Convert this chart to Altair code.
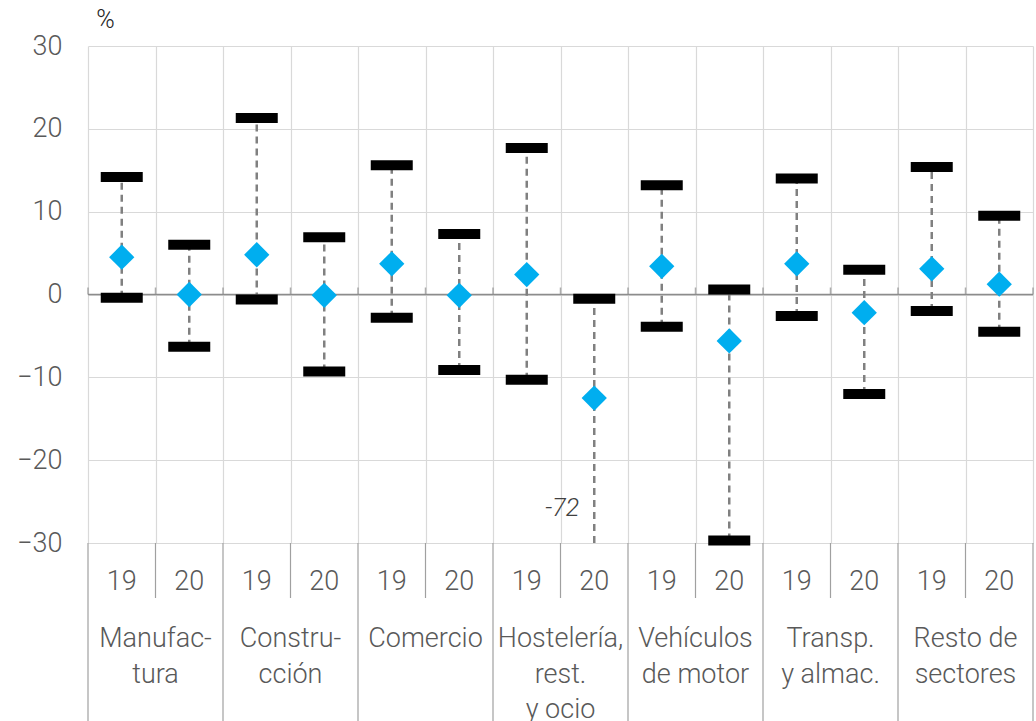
import altair as alt
import pandas as pd

sectors = ["Manufac-\ntura", "Constru-\ncción", "Comercio", "Hostelería,\nrest.\ny ocio",
           "Vehículos\nde motor", "Transp.\ny almac.", "Resto de\nsectores"]
years = ["19", "20"]
highs = [14.2, 6.0, 21.3, 6.9, 15.6, 7.3, 17.7, -0.5, 13.2, 0.6, 14.0, 3.0, 15.4, 9.5]
means = [4.5, 0.0, 4.8, -0.1, 3.7, -0.1, 2.4, -12.5, 3.4, -5.6, 3.7, -2.2, 3.1, 1.25]
lows = [-0.4, -6.3, -0.6, -9.3, -2.8, -9.1, -10.3, -72.0, -3.9, -29.7, -2.6, -12.0, -2.0, -4.5]
y_ticks = [-30, -20, -10, 0, 10, 20, 30]
unit_label = ["%"]

FONT = "'Roboto Light', Roboto, sans-serif"
TXT = "#595959"
W, H = 945, 497

rows = []
for i in range(len(highs)):
    rows.append(dict(pos=i + 0.5, year=years[i % 2], sector=sectors[i // 2],
                     high=highs[i], mean=means[i], low=lows[i]))
df = pd.DataFrame(rows)
sec_df = pd.DataFrame({"pos": [2 * k + 1 for k in range(len(sectors))], "label": sectors})
bounds = pd.DataFrame({"b": list(range(len(highs) + 1))})
bounds["major"] = bounds["b"] % 2 == 0
bounds["z"] = 0.0
zero_df = pd.DataFrame({"z": [0.0]})
off_df = df[df["low"] < -30].copy()
off_df["lbl"] = off_df["low"].map(lambda v: f"{v:.0f}")
unit_df = pd.DataFrame({"t": unit_label})

xscale = alt.Scale(domain=[0, len(highs)], nice=False, zero=False)
yscale = alt.Scale(domain=[-30, 30], nice=False, zero=False)
xaxis = alt.Axis(values=list(range(len(highs) + 1)), grid=True, gridColor="#d9d9d9",
                 gridWidth=1.2, labels=False, ticks=False, domain=False, title=None)
yaxis = alt.Axis(values=y_ticks, grid=True, gridColor="#d9d9d9", gridWidth=1.2,
                 domain=False, ticks=False, labelFontSize=27, labelColor=TXT,
                 labelFont=FONT, labelFontWeight=300, labelPadding=26, title=None)


def X(f):
    return alt.X(f, scale=xscale, axis=xaxis)


def Y(f):
    return alt.Y(f, scale=yscale, axis=yaxis)


base = alt.Chart(df)

zero = alt.Chart(zero_df).mark_rule(color="#8c8c8c", strokeWidth=1.5).encode(
    x=alt.value(0), x2=alt.value(W), y=Y("z:Q"))
zero_ticks = alt.Chart(bounds).mark_tick(orient="vertical", size=7, thickness=1.5,
                                         color="#8c8c8c", yOffset=-3.5).encode(
    x=X("b:Q"), y=Y("z:Q"))

whisk = base.mark_rule(strokeDash=[7, 5], strokeWidth=2.5, color="#808080", clip=True).encode(
    x=X("pos:Q"), y=Y("low:Q"), y2="high:Q")

hi_tick = base.mark_tick(orient="horizontal", size=42, thickness=10, color="black", opacity=1).encode(
    x=X("pos:Q"), y=Y("high:Q"))
lo_tick = base.mark_tick(orient="horizontal", size=42, thickness=10, color="black", opacity=1).encode(
    x=X("pos:Q"), y=Y("low:Q")
).transform_filter("datum.low >= -30")

diam = base.mark_point(shape="diamond", filled=True, size=640, color="#00aeef", opacity=1).encode(
    x=X("pos:Q"), y=Y("mean:Q"))

off_lbl = alt.Chart(off_df).mark_text(font=FONT, fontSize=25, fontStyle="italic", fontWeight=300,
                                      color="#404040", dx=-32, baseline="middle").encode(
    x=X("pos:Q"), y=alt.value(462), text="lbl:N")

year_txt = base.mark_text(font=FONT, fontSize=27, fontWeight=300, color=TXT, baseline="middle").encode(
    x=X("pos:Q"), y=alt.value(H + 39), text="year:N")

sec_txt = alt.Chart(sec_df).mark_text(font=FONT, fontSize=27, fontWeight=300, color=TXT,
                                      baseline="alphabetic", lineBreak="\n", lineHeight=35.5).encode(
    x=X("pos:Q"), y=alt.value(H + 104), text="label:N")

minor_sep = alt.Chart(bounds).mark_rule(color="#a0a0a0", strokeWidth=1.2).encode(
    x=X("b:Q"), y=alt.value(H), y2=alt.value(H + 55)
).transform_filter("!datum.major")
major_sep = alt.Chart(bounds).mark_rule(color="#a0a0a0", strokeWidth=1.2).encode(
    x=X("b:Q"), y=alt.value(H), y2=alt.value(H + 178)
).transform_filter("datum.major")

pct = alt.Chart(unit_df).mark_text(font=FONT, fontSize=25, fontWeight=300, color="#262626",
                                   baseline="middle").encode(
    x=alt.value(17.5), y=alt.value(-26), text="t:N")

chart = alt.layer(zero, zero_ticks, minor_sep, major_sep, whisk, hi_tick, lo_tick, diam,
                  off_lbl, year_txt, sec_txt, pct).properties(
    width=W, height=H,
    autosize=alt.AutoSizeParams(type="none"),
    padding={"left": 88, "top": 46, "right": 3, "bottom": 178},
).configure_view(stroke=None)

chart.save("out.html", embed_options={"renderer": "svg", "actions": False})
